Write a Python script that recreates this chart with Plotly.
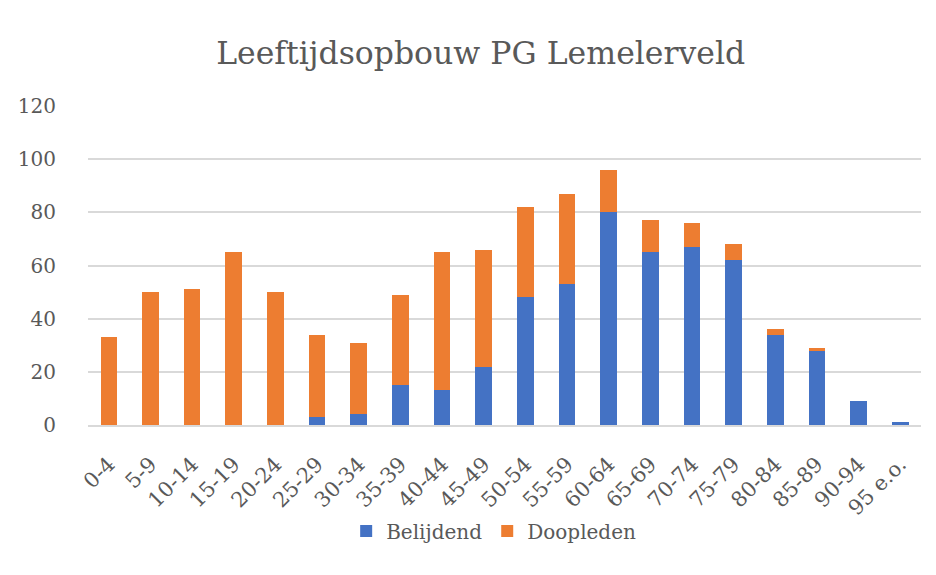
import plotly.graph_objects as go

categories = ["0-4", "5-9", "10-14", "15-19", "20-24", "25-29", "30-34", "35-39",
              "40-44", "45-49", "50-54", "55-59", "60-64", "65-69", "70-74", "75-79",
              "80-84", "85-89", "90-94", "95 e.o."]
belijdend = [0, 0, 0, 0, 0, 3, 4, 15, 13, 22, 48, 53, 80, 65, 67, 62, 34, 28, 9, 1]
doopleden = [33, 50, 51, 65, 50, 31, 27, 34, 52, 44, 34, 34, 16, 12, 9, 6, 2, 1, 0, 0]
y_ticks = [0, 20, 40, 60, 80, 100, 120]

font_family = "DejaVu Serif, Liberation Serif, serif"
grey = "#595959"

fig = go.Figure()
fig.add_trace(go.Bar(x=categories, y=belijdend, name="Belijdend",
                     marker=dict(color="#4472C4", line=dict(width=0))))
fig.add_trace(go.Bar(x=categories, y=doopleden, name="Doopleden",
                     marker=dict(color="#ED7D31", line=dict(width=0))))

fig.update_layout(
    barmode="stack",
    bargap=0.6,
    width=936, height=575,
    margin=dict(l=80, r=23, t=98, b=158, autoexpand=False),
    paper_bgcolor="white", plot_bgcolor="white",
    title=dict(text="Leeftijdsopbouw PG Lemelerveld", x=0.505, xanchor="center",
               y=0.922, yanchor="middle",
               font=dict(family=font_family, size=31.5, color=grey)),
    font=dict(family=font_family, color=grey, size=19),
    legend=dict(orientation="h", x=0.487, xanchor="center", y=-0.332, yanchor="middle",
                font=dict(size=20, color=grey), itemwidth=30, traceorder="normal"),
    xaxis=dict(tickangle=-45, showgrid=False, showline=True, linecolor="#d9d9d9",
               linewidth=1.5, ticks="", ticklabelstandoff=17,
               tickfont=dict(size=21, color=grey)),
    yaxis=dict(range=[0, 120], tickvals=y_ticks, showgrid=True, gridcolor="#d9d9d9",
               gridwidth=1.5, zeroline=False, showline=False, ticks="",
               ticklabelstandoff=31, tickfont=dict(size=20, color=grey)),
)

fig.write_html("out.html")
